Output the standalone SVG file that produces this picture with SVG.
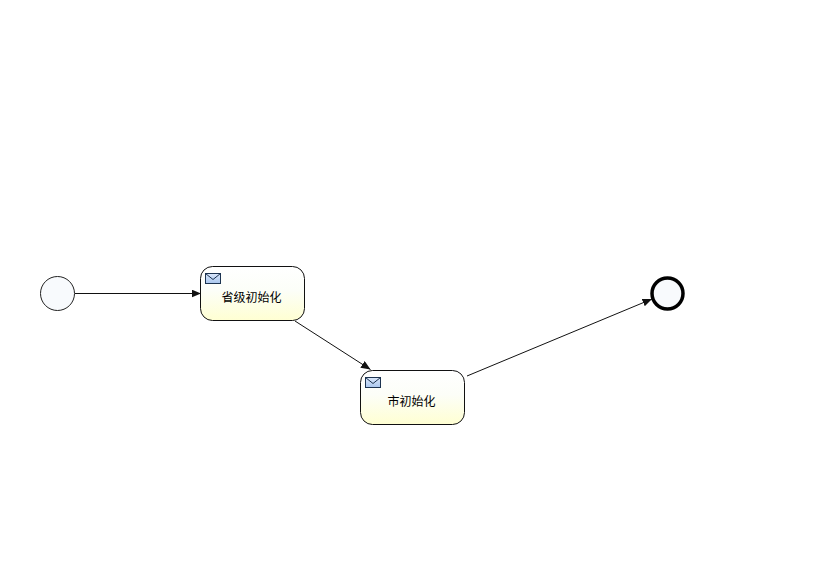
<svg xmlns="http://www.w3.org/2000/svg" width="839" height="561" viewBox="0 0 839 561">
<style>
.task{stroke:#111;stroke-width:1;fill:url(#taskFill)}
.event{fill:#f8fafd}
.flow{fill:none;stroke:#111;stroke-width:1;marker-end:url(#arrow)}
.env{fill:url(#envFill);stroke:#1c3350;stroke-width:1}
.envf{fill:none;stroke:#1c3350;stroke-width:1}
text{font-family:"Noto Sans CJK SC","Liberation Sans",sans-serif;font-size:12px;fill:#000;text-anchor:middle}
</style>
<defs>
<linearGradient id="taskFill" x1="0" y1="0" x2="0" y2="1"><stop offset="0" stop-color="#ffffff"/><stop offset="0.45" stop-color="#fcfef8"/><stop offset="1" stop-color="#ffffd2"/></linearGradient>
<linearGradient id="envFill" x1="0" y1="0" x2="0" y2="1"><stop offset="0" stop-color="#dbe8fb"/><stop offset="1" stop-color="#a9c6ee"/></linearGradient>
<marker id="arrow" markerUnits="userSpaceOnUse" markerWidth="11" markerHeight="10" refX="9.500" refY="4" orient="auto"><path d="M0 0L9.500 4L0 8Z" fill="#111"/></marker>
</defs>
<rect width="839" height="561" fill="#fff"/>
<g id="connectors">
<path class="flow" d="M75 293.500H201"/>
<path class="flow" d="M295 321L370.500 369.500"/>
<path class="flow" d="M467 376L652 299"/>
</g>
<g id="start"><circle class="event" cx="57.500" cy="293.500" r="17" stroke="#222" stroke-width="1"/></g>
<g id="task1">
<rect class="task" x="200.500" y="266.500" width="104" height="54" rx="12" ry="12"/>
<rect class="env" x="205.500" y="273.500" width="15" height="10"/><path class="envf" d="M205.500 273.500L213 279.500L220.500 273.500"/>
<text x="251.500" y="302">省级初始化</text>
</g>
<g id="task2">
<rect class="task" x="360.500" y="370.500" width="104" height="54" rx="12" ry="12"/>
<rect class="env" x="365.500" y="377.500" width="15" height="10"/><path class="envf" d="M365.500 377.500L373 383.500L380.500 377.500"/>
<text x="411.500" y="406">市初始化</text>
</g>
<g id="end"><circle class="event" cx="667.500" cy="293.500" r="15.500" stroke="#000" stroke-width="3.500"/></g>
</svg>
